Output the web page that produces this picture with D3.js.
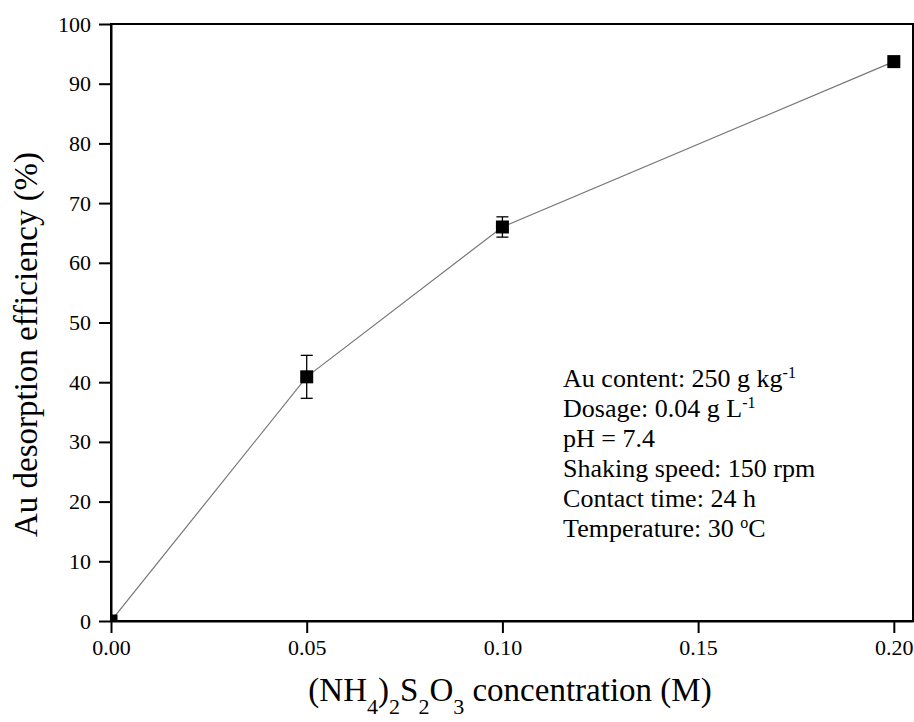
<!DOCTYPE html>
<html>
  <head>
    <meta charset="utf-8" />
    <title>Au desorption efficiency</title>
    <style>
      body { margin: 0; background: #fff; }
      svg text { font-family: "Liberation Serif", "Times New Roman", serif; fill: #000; }
      .line { fill: none; stroke: #777; stroke-width: 1.2px; }
    </style>
  </head>
  <body>
    <svg id="chart"></svg>

    <script src="https://d3js.org/d3.v7.min.js"></script>
    <script>
      // data
      const concentration = [0, 0.05, 0.1, 0.2];
      const efficiency = [0, 40.9, 66.0, 93.7];
      const errors = [0, 3.6, 1.7, 0.5];
      const xTicks = [0, 0.05, 0.1, 0.15, 0.2];
      const yTicks = [0, 10, 20, 30, 40, 50, 60, 70, 80, 90, 100];
      const notes = [
        ["Au content: 250 g kg", "-1"],
        ["Dosage: 0.04 g L", "-1"],
        ["pH = 7.4", ""],
        ["Shaking speed: 150 rpm", ""],
        ["Contact time: 24 h", ""],
        ["Temperature: 30 ", "o", "C"],
      ];

      const width = 914;
      const height = 722;
      const margin = { top: 24, right: 1, bottom: 101, left: 111 };
      const innerWidth = width - margin.left - margin.right;
      const innerHeight = height - margin.top - margin.bottom;

      const data = concentration.map((c, i) => ({ x: c, y: efficiency[i], e: errors[i] }));

      const xScale = d3.scaleLinear().domain([0, 0.2049]).range([0, innerWidth]);
      const yScale = d3.scaleLinear().domain([0, 100]).range([innerHeight, 0]);

      const svg = d3.select("#chart").attr("width", width).attr("height", height);
      const chart = svg.append("g").attr("transform", `translate(${margin.left},${margin.top})`);

      chart.append("clipPath").attr("id", "clip")
        .append("rect").attr("width", innerWidth).attr("height", innerHeight);

      const plot = chart.append("g").attr("clip-path", "url(#clip)");

      const lineGenerator = d3.line().x((d) => xScale(d.x)).y((d) => yScale(d.y));
      plot.append("path").datum(data).attr("class", "line").attr("d", lineGenerator);

      // error bars
      const cap = 6;
      const eb = plot.selectAll(".err").data(data.filter((d) => d.e > 0)).join("g")
        .attr("stroke", "#000").attr("stroke-width", 1.3);
      eb.append("line")
        .attr("x1", (d) => xScale(d.x)).attr("x2", (d) => xScale(d.x))
        .attr("y1", (d) => yScale(d.y - d.e)).attr("y2", (d) => yScale(d.y + d.e));
      eb.append("line")
        .attr("x1", (d) => xScale(d.x) - cap).attr("x2", (d) => xScale(d.x) + cap)
        .attr("y1", (d) => yScale(d.y + d.e)).attr("y2", (d) => yScale(d.y + d.e));
      eb.append("line")
        .attr("x1", (d) => xScale(d.x) - cap).attr("x2", (d) => xScale(d.x) + cap)
        .attr("y1", (d) => yScale(d.y - d.e)).attr("y2", (d) => yScale(d.y - d.e));

      const size = 13;
      plot.selectAll(".pt").data(data).join("rect")
        .attr("x", (d) => xScale(d.x) - size / 2)
        .attr("y", (d) => yScale(d.y) - size / 2)
        .attr("width", size).attr("height", size)
        .attr("fill", "#000");

      // frame
      chart.append("rect")
        .attr("width", innerWidth).attr("height", innerHeight)
        .attr("fill", "none").attr("stroke", "#000").attr("stroke-width", 2);

      const xAxis = chart.append("g")
        .attr("transform", `translate(0,${innerHeight})`)
        .call(d3.axisBottom(xScale).tickValues(xTicks).tickFormat(d3.format(".2f")).tickSizeInner(12).tickSizeOuter(0).tickPadding(6));
      const yAxis = chart.append("g")
        .call(d3.axisLeft(yScale).tickValues(yTicks).tickFormat(d3.format("d")).tickSizeInner(12).tickSizeOuter(0).tickPadding(8));

      [xAxis, yAxis].forEach((ax) => {
        ax.select(".domain").attr("stroke-width", 2);
        ax.selectAll(".tick line").attr("stroke-width", 2);
        ax.selectAll(".tick text")
          .style("font-family", '"Liberation Serif", "Times New Roman", serif')
          .style("font-size", "22px").attr("fill", "#000");
      });

      // annotation
      const noteG = chart.append("text")
        .attr("transform", `translate(${xScale(0.1155)},0)`)
        .style("font-size", "26px");
      notes.forEach((n, i) => {
        const base = 387 - margin.top + i * 30;
        noteG.append("tspan").attr("x", 0).attr("y", base).text(n[0]);
        if (n[1]) {
          noteG.append("tspan").attr("y", base - 9).style("font-size", "16px").text(n[1]);
        }
        if (n[2]) {
          noteG.append("tspan").attr("y", base).text(n[2]);
        }
      });

      // axis titles
      const xt = svg.append("text")
        .attr("x", margin.left + innerWidth / 2 - 2).attr("y", 701)
        .attr("text-anchor", "middle").style("font-size", "33px");
      const parts = [["(NH", 0], ["4", 1], [")", 0], ["2", 1], ["S", 0], ["2", 1], ["O", 0], ["3", 1], [" concentration (M)", 0]];
      let prevSub = 0;
      parts.forEach(([t, sub]) => {
        const dy = (sub - prevSub) * 13;
        xt.append("tspan").attr("dy", dy).style("font-size", sub ? "22px" : "33px").text(t);
        prevSub = sub;
      });

      svg.append("text")
        .attr("transform", `translate(37,${margin.top + innerHeight / 2 + 22}) rotate(-90)`)
        .attr("text-anchor", "middle").style("font-size", "33px")
        .text("Au desorption efficiency (%)");
    </script>
  </body>
</html>
